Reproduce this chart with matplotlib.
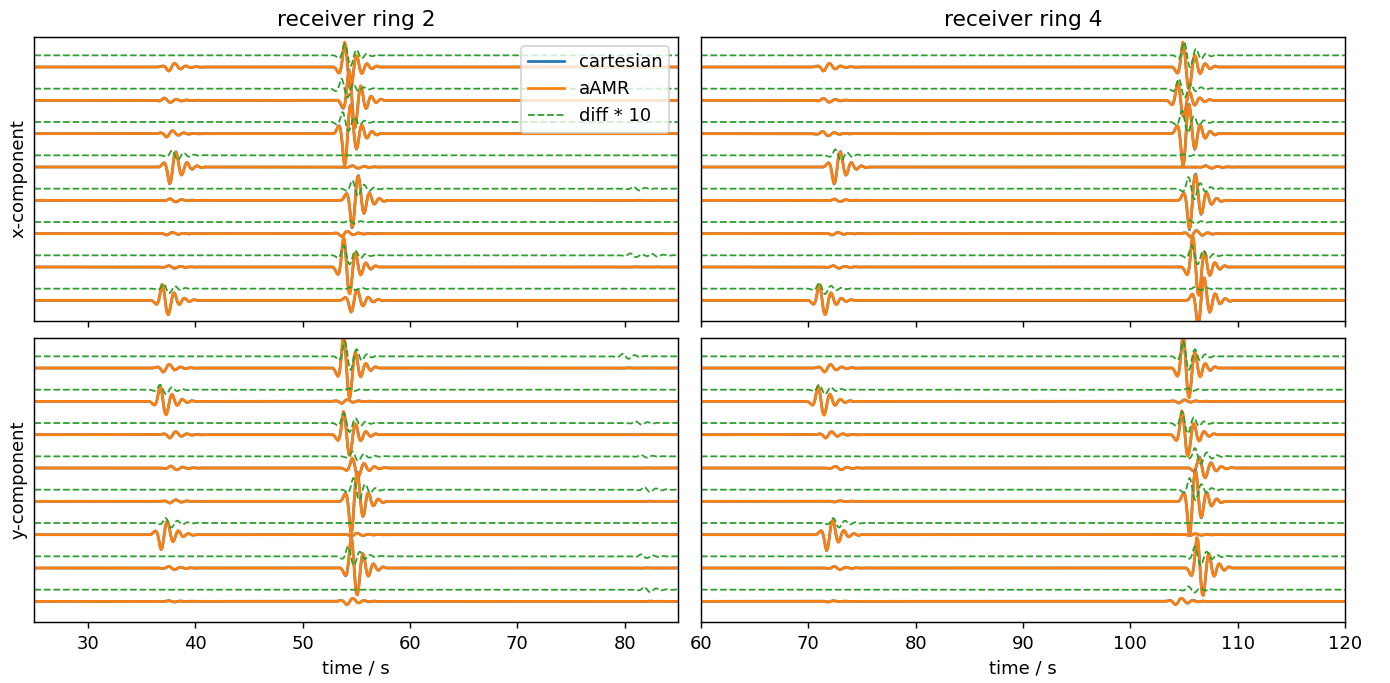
import matplotlib.pyplot as plt
import numpy as np

# normalised seismic wavelet, one sample per 0.1 s,
# main lobe at index 10
wavelet = [0.0, -0.03, -0.08, -0.15, -0.22, -0.25, -0.18, 0.02, 0.35, 0.75,
           1.0, 0.9, 0.5, -0.05, -0.55, -0.85, -0.9, -0.7, -0.35, 0.05,
           0.35, 0.48, 0.42, 0.22, -0.02, -0.2, -0.27, -0.23, -0.11, 0.03,
           0.12, 0.14, 0.1, 0.03, -0.03, -0.07, -0.07, -0.04, 0.0, 0.03,
           0.04, 0.03, 0.01, 0.0]
peak_idx = 10
dt = 0.1

# (time of main lobe / s, signed amplitude in trace spacings), top trace first
x_ring2 = [[(37.5, -0.12), (53.9, 0.75)],
           [(37.1, 0.07), (54.3, 0.9)],
           [(37.3, -0.1), (53.9, -0.95)],
           [(37.6, -0.5), (54.6, 0.04)],
           [(37.6, 0.05), (54.6, -0.8)],
           [(37.3, -0.04), (53.6, -0.08)],
           [(37.5, 0.04), (53.8, 0.9)],
           [(36.9, 0.48), (54.5, -0.35)]]
x_ring4 = [[(71.4, -0.12), (104.9, 0.75)],
           [(71.4, 0.06), (104.4, 0.55)],
           [(71.3, 0.07), (104.9, -0.95)],
           [(72.4, -0.5), (107.0, 0.04)],
           [(72.4, 0.04), (105.5, -0.85)],
           [(72.2, -0.04), (105.6, -0.1)],
           [(72.3, 0.04), (105.8, 0.95)],
           [(71.0, 0.48), (106.3, -0.75)]]
y_ring2 = [[(37.0, -0.12), (53.8, 1.0)],
           [(36.7, 0.45), (53.6, -0.06)],
           [(37.6, -0.1), (53.8, 0.7)],
           [(37.7, 0.06), (54.6, 0.3)],
           [(37.6, -0.05), (54.5, -0.95)],
           [(36.8, -0.45), (54.5, -0.05)],
           [(37.5, 0.05), (54.5, 0.9)],
           [(37.5, 0.02), (54.1, -0.1)]]
y_ring4 = [[(71.5, -0.12), (104.9, 1.0)],
           [(70.9, 0.46), (104.5, -0.05)],
           [(71.6, -0.1), (104.8, 0.72)],
           [(72.5, 0.05), (106.4, 0.32)],
           [(72.4, -0.02), (105.5, -1.0)],
           [(71.7, -0.48), (105.5, -0.03)],
           [(72.4, 0.05), (106.2, 0.92)],
           [(71.8, -0.02), (104.2, -0.1)]]

# difference (aAMR - cartesian) * 10, same units
x_ring2_diff = [[(53.9, 0.35)],
                [(53.6, 0.3)],
                [(53.7, 0.3)],
                [(37.8, 0.15)],
                [(54.6, 0.25), (80.8, 0.06)],
                [(54.3, 0.05)],
                [(53.8, 0.3), (80.5, 0.06), (82.5, 0.04)],
                [(37.0, 0.15), (54.4, 0.05)]]
x_ring4_diff = [[(105.0, 0.4)],
                [(104.5, 0.3)],
                [(104.8, 0.35)],
                [(72.5, 0.18), (104.9, 0.03)],
                [(105.4, 0.35)],
                [(105.5, 0.05)],
                [(105.7, 0.3)],
                [(71.0, 0.18), (106.0, 0.05)]]
y_ring2_diff = [[(53.9, 0.45), (79.8, 0.08)],
                [(36.7, 0.15), (54.3, 0.04)],
                [(53.8, 0.3), (81.0, 0.05)],
                [(54.6, 0.15), (81.5, 0.04)],
                [(54.7, 0.35), (81.8, 0.08)],
                [(37.2, 0.15)],
                [(54.2, 0.3), (81.5, 0.06)],
                [(81.8, 0.08)]]
y_ring4_diff = [[(104.9, 0.45)],
                [(71.0, 0.15), (105.3, 0.04)],
                [(104.8, 0.35)],
                [(106.0, 0.25)],
                [(105.5, 0.35)],
                [(72.3, 0.15)],
                [(106.0, 0.3)],
                [(105.4, 0.1)]]

t_ring2 = np.round(np.arange(250, 851) * dt, 1)
t_ring4 = np.round(np.arange(600, 1201) * dt, 1)

components = ['x-component', 'y-component']
titles = ['receiver ring 2', 'receiver ring 4']
diff_offset = 0.35


def build(t, picks):
    out = np.zeros_like(t)
    for tp, amp in picks:
        i0 = int(round((tp - t[0]) / dt)) - peak_idx
        for k, w in enumerate(wavelet):
            if 0 <= i0 + k < len(t):
                out[i0 + k] += amp * w
    return out


fig, axes = plt.subplots(2, 2, figsize=(1390 / 130, 683 / 130), dpi=130,
                         sharex='col')
fig.subplots_adjust(left=0.0247, right=0.9676, bottom=0.0893, top=0.9458,
                    hspace=0.06, wspace=0.035)

panels = [
    (axes[0, 0], t_ring2, x_ring2, x_ring2_diff),
    (axes[0, 1], t_ring4, x_ring4, x_ring4_diff),
    (axes[1, 0], t_ring2, y_ring2, y_ring2_diff),
    (axes[1, 1], t_ring4, y_ring4, y_ring4_diff),
]

for ax, t, arrivals, diffs in panels:
    for i, (picks, dpicks) in enumerate(zip(arrivals, diffs)):
        amr = build(t, picks)
        diff = build(t, dpicks)
        cart = amr - diff / 10
        ax.plot(t, cart - i, color='C0', lw=1.5,
                label='cartesian' if i == 0 else None)
        ax.plot(t, amr - i, color='C1', lw=1.5,
                label='aAMR' if i == 0 else None)
        ax.plot(t, diff - i + diff_offset, color='C2', ls='--', lw=1,
                label='diff * 10' if i == 0 else None)
    ax.set_ylim(-7.62, 0.9)
    ax.set_yticks([])

axes[0, 0].set_xlim(25, 85)
axes[0, 1].set_xlim(60, 120)
for j in range(2):
    axes[0, j].set_title(titles[j])
    axes[1, j].set_xlabel('time / s')
    axes[j, 0].set_ylabel(components[j])

axes[0, 0].legend(loc='upper right')

fig.savefig('out.png', dpi=130)
